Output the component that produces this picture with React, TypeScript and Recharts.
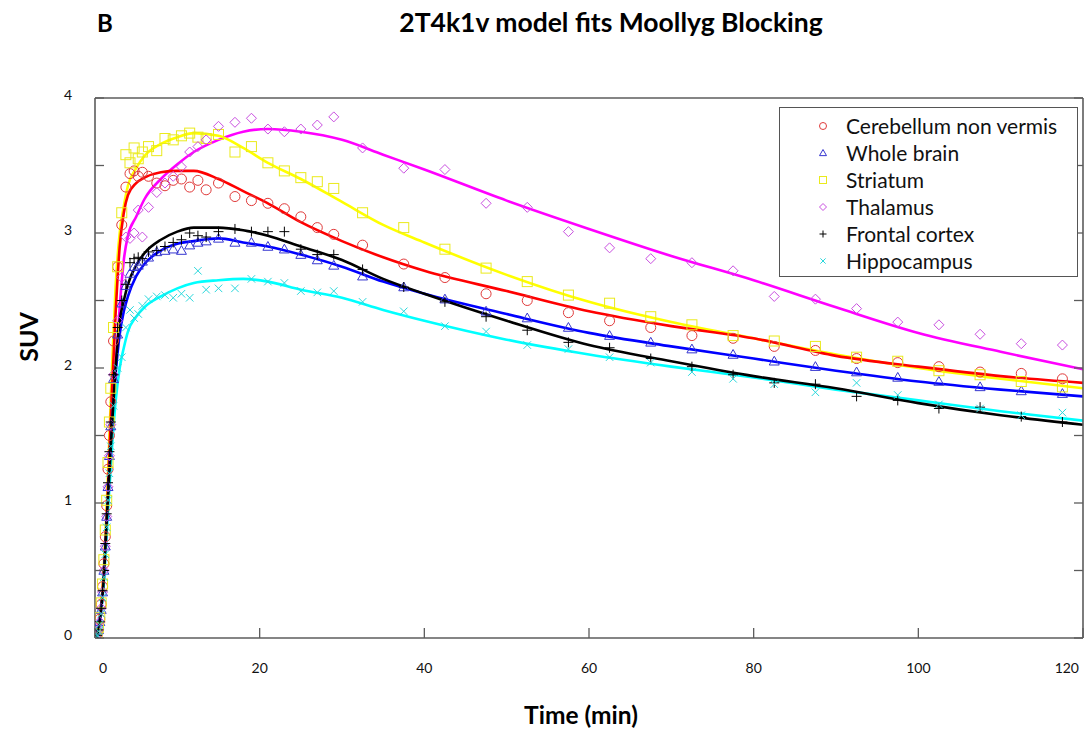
import React from 'react';
import { ComposedChart, Line, Scatter, XAxis, YAxis } from 'recharts';

// PET frame mid-times (min)
const FRAME_T = [
    0.08, 0.25, 0.42, 0.58, 0.75, 0.92, 1.08, 1.25, 1.42, 1.58, 1.75, 1.92,
    2.25, 2.75, 3.25, 3.75, 4.25, 4.75, 5.25, 5.75,
    6.5, 7.5, 8.5, 9.5, 10.5, 11.5, 12.5, 13.5,
    15, 17, 19, 21, 23, 25, 27, 29,
    32.5, 37.5, 42.5, 47.5, 52.5, 57.5, 62.5, 67.5, 72.5, 77.5, 82.5, 87.5, 92.5, 97.5, 102.5, 107.5, 112.5, 117.5,
];

// times at which the model curves are sampled
const FIT_T = [0, 0.5, 1, 1.5, 2, 2.5, 3, 3.5, 4, 5, 6, 8, 10, 12, 15, 18, 21, 25, 30, 35, 40, 50, 60, 70, 80, 90, 100, 110, 120];

// measured SUV per region
const CEREBELLUM_SUV = [
    0.0, 0.02, 0.07, 0.14, 0.25, 0.38, 0.55, 0.75, 0.98, 1.25, 1.5, 1.75,
    2.2, 2.75, 3.06, 3.34, 3.44, 3.46, 3.42, 3.45,
    3.42, 3.37, 3.35, 3.39, 3.4, 3.34, 3.39, 3.32,
    3.37, 3.27, 3.24, 3.22, 3.18, 3.12, 3.04, 2.99,
    2.91, 2.77, 2.67, 2.55, 2.5, 2.41, 2.35, 2.3, 2.24, 2.22, 2.16, 2.13, 2.07, 2.04, 2.01, 1.97, 1.96, 1.92,
];
const WHOLE_BRAIN_SUV = [
    0.0, 0.02, 0.06, 0.12, 0.21, 0.34, 0.5, 0.68, 0.9, 1.12, 1.35, 1.57,
    1.92, 2.25, 2.48, 2.61, 2.7, 2.75, 2.76, 2.79,
    2.82, 2.86, 2.87, 2.88, 2.87, 2.91, 2.93, 2.94,
    2.96, 2.93, 2.93, 2.9, 2.88, 2.84, 2.8, 2.76,
    2.68, 2.6, 2.51, 2.42, 2.37, 2.3, 2.24, 2.19, 2.14, 2.1, 2.05, 2.01, 1.97, 1.93, 1.9, 1.86, 1.83, 1.81,
];
const STRIATUM_SUV = [
    0.0, 0.03, 0.08, 0.15, 0.26, 0.4, 0.58, 0.8, 1.02, 1.3, 1.6, 1.85,
    2.3, 2.75, 3.15, 3.58, 3.52, 3.63, 3.55, 3.6,
    3.64, 3.61, 3.7, 3.69, 3.72, 3.74, 3.71, 3.7,
    3.73, 3.6, 3.64, 3.52, 3.46, 3.41, 3.38, 3.33,
    3.15, 3.04, 2.88, 2.74, 2.64, 2.54, 2.48, 2.38, 2.32, 2.24, 2.2, 2.16, 2.08, 2.05, 1.98, 1.95, 1.9, 1.86,
];
const THALAMUS_SUV = [
    0.0, 0.02, 0.06, 0.12, 0.22, 0.34, 0.5, 0.68, 0.9, 1.12, 1.35, 1.58,
    1.95, 2.35, 2.67, 2.97, 2.96, 3.0, 3.17, 2.97,
    3.19, 3.3, 3.37, 3.42, 3.49, 3.6, 3.64, 3.69,
    3.79, 3.82, 3.85, 3.77, 3.75, 3.77, 3.8, 3.86,
    3.63, 3.48, 3.47, 3.22, 3.19, 3.01, 2.89, 2.81, 2.78, 2.72, 2.53, 2.51, 2.44, 2.34, 2.32, 2.25, 2.18, 2.17,
];
const FRONTAL_SUV = [
    0.0, 0.02, 0.06, 0.12, 0.22, 0.35, 0.5, 0.7, 0.92, 1.15, 1.38, 1.6,
    1.95, 2.3, 2.5, 2.62, 2.78, 2.81, 2.82, 2.81,
    2.86, 2.87, 2.9, 2.93, 2.95, 3.0, 2.98, 2.97,
    3.01, 3.03, 3.01, 3.01, 3.01, 2.88, 2.84, 2.84,
    2.73, 2.6, 2.49, 2.38, 2.28, 2.19, 2.15, 2.07, 2.01, 1.95, 1.89, 1.88, 1.79, 1.76, 1.7, 1.71, 1.64, 1.6,
];
const HIPPOCAMPUS_SUV = [
    0.0, 0.02, 0.05, 0.1, 0.18, 0.3, 0.45, 0.62, 0.82, 1.02, 1.22, 1.42,
    1.72, 2.0, 2.08, 2.3, 2.43, 2.37, 2.4, 2.46,
    2.51, 2.53, 2.54, 2.52, 2.55, 2.52, 2.72, 2.58,
    2.59, 2.59, 2.66, 2.64, 2.63, 2.57, 2.56, 2.57,
    2.49, 2.42, 2.31, 2.27, 2.17, 2.14, 2.08, 2.04, 1.97, 1.92, 1.88, 1.82, 1.89, 1.8, 1.73, 1.7, 1.65, 1.67,
];

// 2T4k1v model fits
const CEREBELLUM_FIT = [0, 0.12, 0.42, 1.0, 1.75, 2.4, 2.9, 3.15, 3.28, 3.37, 3.41, 3.45, 3.46, 3.46, 3.4, 3.31, 3.22, 3.08, 2.94, 2.82, 2.72, 2.57, 2.42, 2.31, 2.22, 2.09, 2.01, 1.94, 1.89];
const WHOLE_BRAIN_FIT = [0, 0.1, 0.38, 0.95, 1.5, 1.95, 2.25, 2.42, 2.53, 2.68, 2.77, 2.87, 2.92, 2.94, 2.96, 2.93, 2.9, 2.84, 2.75, 2.64, 2.55, 2.4, 2.26, 2.16, 2.07, 1.98, 1.9, 1.84, 1.79];
const STRIATUM_FIT = [0, 0.12, 0.45, 1.1, 1.9, 2.6, 3.0, 3.2, 3.35, 3.48, 3.57, 3.66, 3.71, 3.74, 3.72, 3.63, 3.52, 3.4, 3.23, 3.06, 2.93, 2.69, 2.49, 2.34, 2.22, 2.1, 2.0, 1.92, 1.85];
const THALAMUS_FIT = [0, 0.1, 0.38, 0.9, 1.5, 2.0, 2.45, 2.8, 2.98, 3.12, 3.25, 3.4, 3.51, 3.6, 3.69, 3.75, 3.77, 3.75, 3.69, 3.58, 3.47, 3.24, 3.03, 2.83, 2.65, 2.45, 2.26, 2.12, 1.99];
const FRONTAL_FIT = [0, 0.1, 0.38, 0.95, 1.5, 2.0, 2.35, 2.5, 2.62, 2.76, 2.85, 2.95, 3.01, 3.04, 3.04, 3.02, 2.98, 2.9, 2.8, 2.66, 2.55, 2.35, 2.17, 2.05, 1.94, 1.85, 1.74, 1.65, 1.58];
const HIPPOCAMPUS_FIT = [0, 0.1, 0.35, 0.85, 1.35, 1.75, 2.0, 2.15, 2.27, 2.38, 2.45, 2.53, 2.59, 2.63, 2.65, 2.66, 2.64, 2.58, 2.52, 2.43, 2.35, 2.21, 2.1, 2.01, 1.93, 1.84, 1.76, 1.68, 1.61];

const X_TICKS = [0, 20, 40, 60, 80, 100, 120];
const Y_TICKS = [0, 0.5, 1, 1.5, 2, 2.5, 3, 3.5, 4];

type Kind = 'circle' | 'triangle' | 'square' | 'diamond' | 'plus' | 'cross';

interface Region {
    name: string;
    suv: number[];
    fit: number[];
    line: string;
    mark: string;
    kind: Kind;
}

const REGIONS: Region[] = [
    { name: 'Cerebellum non vermis', suv: CEREBELLUM_SUV, fit: CEREBELLUM_FIT, line: '#ff0000', mark: '#e03a3a', kind: 'circle' },
    { name: 'Whole brain', suv: WHOLE_BRAIN_SUV, fit: WHOLE_BRAIN_FIT, line: '#0000ff', mark: '#3535d0', kind: 'triangle' },
    { name: 'Striatum', suv: STRIATUM_SUV, fit: STRIATUM_FIT, line: '#ffff00', mark: '#eaea1c', kind: 'square' },
    { name: 'Thalamus', suv: THALAMUS_SUV, fit: THALAMUS_FIT, line: '#ff00ff', mark: '#c94ee0', kind: 'diamond' },
    { name: 'Frontal cortex', suv: FRONTAL_SUV, fit: FRONTAL_FIT, line: '#000000', mark: '#000000', kind: 'plus' },
    { name: 'Hippocampus', suv: HIPPOCAMPUS_SUV, fit: HIPPOCAMPUS_FIT, line: '#00ffff', mark: '#2ad8dc', kind: 'cross' },
];

// draw order of the fitted curves (last on top)
const LINE_ORDER = [3, 2, 0, 1, 5, 4];

const AXIS = '#5c5c5c';
const FONT = "Lato, 'Open Sans', sans-serif";

const Marker = ({ cx, cy, kind, color, s = 5 }: { cx: number; cy: number; kind: Kind; color: string; s?: number }) => {
    const common = { fill: 'none', stroke: color, strokeWidth: 1 };
    switch (kind) {
        case 'circle':
            return <circle cx={cx} cy={cy} r={s} {...common} />;
        case 'triangle':
            return <polygon points={`${cx},${cy - s} ${cx + s},${cy + s * 0.75} ${cx - s},${cy + s * 0.75}`} {...common} />;
        case 'square':
            return <rect x={cx - s} y={cy - s} width={s * 2} height={s * 2} {...common} />;
        case 'diamond':
            return <polygon points={`${cx},${cy - s} ${cx + s},${cy} ${cx},${cy + s} ${cx - s},${cy}`} {...common} />;
        case 'plus':
            return <path d={`M${cx - s},${cy}H${cx + s}M${cx},${cy - s}V${cy + s}`} {...common} />;
        default: {
            const d = s * 0.75;
            return <path d={`M${cx - d},${cy - d}L${cx + d},${cy + d}M${cx - d},${cy + d}L${cx + d},${cy - d}`} {...common} />;
        }
    }
};

// axis ticks point inward on all four sides of the frame
const BottomTick = (p: any) => {
    const { x, y, payload, index } = p;
    const last = index === X_TICKS.length - 1;
    const anchor = index === 0 ? 'start' : last ? 'end' : 'middle';
    const dx = index === 0 ? 4 : last ? -4 : 0;
    return (
        <g>
            <line x1={x} x2={x} y1={y} y2={y - 10} stroke={AXIS} strokeWidth={1.3} />
            <text x={x + dx} y={y + 35} textAnchor={anchor} fontSize={14} fontFamily={FONT} fill="#111">
                {payload.value}
            </text>
        </g>
    );
};

const TopTick = (p: any) => <line x1={p.x} x2={p.x} y1={p.y} y2={p.y + 10} stroke={AXIS} strokeWidth={1.3} />;

const LeftTick = (p: any) => {
    const { x, y, payload } = p;
    return (
        <g>
            <line x1={x} x2={x + 9} y1={y} y2={y} stroke={AXIS} strokeWidth={1.3} />
            {Number.isInteger(payload.value) && (
                <text x={x - 27} y={y + 2} textAnchor="middle" fontSize={14} fontFamily={FONT} fill="#111">
                    {payload.value}
                </text>
            )}
        </g>
    );
};

const RightTick = (p: any) => <line x1={p.x} x2={p.x - 9} y1={p.y} y2={p.y} stroke={AXIS} strokeWidth={1.3} />;

const text = (extra: React.CSSProperties): React.CSSProperties => ({
    position: 'absolute',
    fontFamily: FONT,
    color: '#000',
    whiteSpace: 'nowrap',
    transform: 'translate(-50%, -50%)',
    ...extra,
});

export default function App() {
    const points = REGIONS.map((r) => FRAME_T.map((t, i) => ({ t, v: r.suv[i] })));
    const curves = REGIONS.map((r) => FIT_T.map((t, i) => ({ t, v: r.fit[i] })));

    return (
        <div style={{ position: 'absolute', left: 0, top: 0, width: 1084, height: 730, background: '#fff', overflow: 'hidden' }}>
            <div style={text({ left: 105, top: 22, fontSize: 24, fontWeight: 700 })}>B</div>
            <div style={text({ left: 611, top: 22, fontSize: 26.5, fontWeight: 700 })}>2T4k1v model fits Moollyg Blocking</div>
            <div style={text({ left: 28, top: 337, fontSize: 25, fontWeight: 700, transform: 'translate(-50%, -50%) rotate(-90deg)' })}>SUV</div>
            <div style={text({ left: 581, top: 714, fontSize: 24.5, fontWeight: 700 })}>Time (min)</div>

            <ComposedChart width={1084} height={730} margin={{ top: 97, right: 0, bottom: 91, left: 94 }} style={{ position: 'absolute', left: 0, top: 0 }}>
                <XAxis
                    xAxisId="b"
                    dataKey="t"
                    type="number"
                    domain={[0, 120]}
                    ticks={X_TICKS}
                    interval={0}
                    height={1}
                    tickSize={0}
                    tickMargin={0}
                    tickLine={false}
                    stroke={AXIS}
                    strokeWidth={1.6}
                    tick={BottomTick}
                    allowDataOverflow
                />
                <XAxis
                    xAxisId="t"
                    orientation="top"
                    type="number"
                    domain={[0, 120]}
                    ticks={X_TICKS}
                    interval={0}
                    height={1}
                    tickSize={0}
                    tickMargin={0}
                    tickLine={false}
                    stroke={AXIS}
                    strokeWidth={1.6}
                    tick={TopTick}
                    allowDataOverflow
                />
                <YAxis
                    yAxisId="l"
                    dataKey="v"
                    type="number"
                    domain={[0, 4]}
                    ticks={Y_TICKS}
                    interval={0}
                    width={1}
                    tickSize={0}
                    tickMargin={0}
                    tickLine={false}
                    stroke={AXIS}
                    strokeWidth={1.6}
                    tick={LeftTick}
                    allowDataOverflow
                />
                <YAxis
                    yAxisId="r"
                    orientation="right"
                    type="number"
                    domain={[0, 4]}
                    ticks={Y_TICKS}
                    interval={0}
                    width={1}
                    tickSize={0}
                    tickMargin={0}
                    tickLine={false}
                    stroke={AXIS}
                    strokeWidth={1.6}
                    tick={RightTick}
                    allowDataOverflow
                />

                {REGIONS.map((r, i) => (
                    <Scatter
                        key={`pts-${r.name}`}
                        xAxisId="b"
                        yAxisId="l"
                        data={points[i]}
                        dataKey="v"
                        isAnimationActive={false}
                        shape={(p: any) => <Marker cx={p.cx} cy={p.cy} kind={r.kind} color={r.mark} />}
                    />
                ))}

                {LINE_ORDER.map((i) => (
                    <Line
                        key={`fit-${REGIONS[i].name}`}
                        xAxisId="b"
                        yAxisId="l"
                        data={curves[i]}
                        dataKey="v"
                        type="monotone"
                        stroke={REGIONS[i].line}
                        strokeWidth={2.6}
                        dot={false}
                        activeDot={false}
                        isAnimationActive={false}
                    />
                ))}
            </ComposedChart>

            {/* legend box */}
            <div
                style={{
                    position: 'absolute',
                    left: 779,
                    top: 107,
                    width: 299,
                    height: 170,
                    border: '1.3px solid #555',
                    background: '#fff',
                    boxSizing: 'border-box',
                }}
            >
                {REGIONS.map((r, i) => (
                    <div key={r.name} style={{ position: 'absolute', left: 0, top: 4 + i * 27, height: 27, display: 'flex', alignItems: 'center' }}>
                        <svg width={20} height={20} style={{ position: 'absolute', left: 33 }}>
                            <Marker cx={10} cy={10} kind={r.kind} color={r.mark} s={3.5} />
                        </svg>
                        <span style={{ position: 'absolute', left: 66, fontFamily: FONT, fontSize: 21, color: '#111', whiteSpace: 'nowrap' }}>
                            {r.name}
                        </span>
                    </div>
                ))}
            </div>
        </div>
    );
}
